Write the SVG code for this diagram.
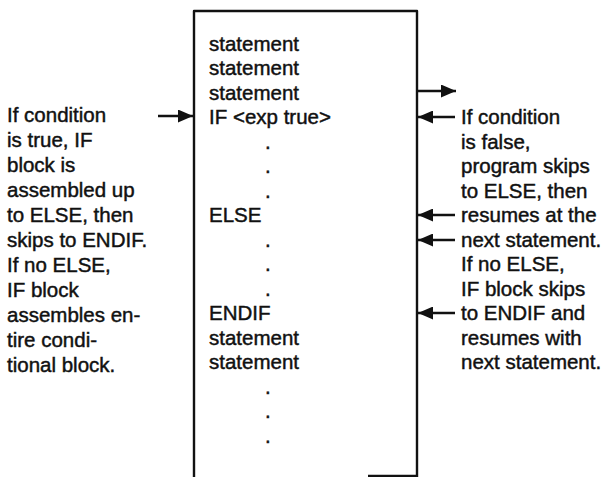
<svg xmlns="http://www.w3.org/2000/svg" width="604" height="477" viewBox="0 0 604 477">
<style>
text{font-family:"Liberation Sans",Arial,sans-serif;font-size:20.5px;fill:#111;stroke:#111;stroke-width:0.45px}
.edge{stroke:#111;stroke-width:2.6;fill:none}
.box{stroke:#111;stroke-width:2.4;fill:none;stroke-linejoin:round}
</style>
<defs>
<marker id="ah" viewBox="0 0 15 13" refX="15" refY="6.5" markerWidth="15" markerHeight="13" markerUnits="userSpaceOnUse" orient="auto">
<path d="M0,0 L15,6.5 L0,13 z" fill="#111"/>
</marker>
</defs>
<rect width="604" height="477" fill="#fff"/>
<g id="block">
<path class="box" d="M194,477 L194,11 L417,11 L417,477"/>
<path class="box" d="M368,476 L417,476"/>
<text x="209" y="50.5">statement</text>
<text x="209" y="75">statement</text>
<text x="209" y="99.5">statement</text>
<text x="209" y="124">IF &lt;exp true&gt;</text>
<text x="265" y="148.5">.</text>
<text x="265" y="173">.</text>
<text x="265" y="197.5">.</text>
<text x="209" y="222">ELSE</text>
<text x="265" y="246.5">.</text>
<text x="265" y="271">.</text>
<text x="265" y="295.5">.</text>
<text x="209" y="320">ENDIF</text>
<text x="209" y="344.5">statement</text>
<text x="209" y="369">statement</text>
<text x="265" y="393.5">.</text>
<text x="265" y="418">.</text>
<text x="265" y="442.5">.</text>
</g>
<g id="left-note">
<text x="7" y="122">If condition</text>
<text x="7" y="147">is true, IF</text>
<text x="7" y="172">block is</text>
<text x="7" y="197">assembled up</text>
<text x="7" y="222">to ELSE, then</text>
<text x="7" y="247">skips to ENDIF.</text>
<text x="7" y="272">If no ELSE,</text>
<text x="7" y="297">IF block</text>
<text x="7" y="322">assembles en-</text>
<text x="7" y="347">tire condi-</text>
<text x="7" y="372">tional block.</text>
</g>
<g id="right-note">
<text x="461" y="124">If condition</text>
<text x="461" y="148.5">is false,</text>
<text x="461" y="173">program skips</text>
<text x="461" y="197.5">to ELSE, then</text>
<text x="461" y="222">resumes at the</text>
<text x="461" y="246.5">next statement.</text>
<text x="461" y="271">If no ELSE,</text>
<text x="461" y="295.5">IF block skips</text>
<text x="461" y="320">to ENDIF and</text>
<text x="461" y="344.5">resumes with</text>
<text x="461" y="369">next statement.</text>
</g>
<g id="connectors">
<line class="edge" x1="158" y1="116" x2="193" y2="116" marker-end="url(#ah)"/>
<line class="edge" x1="417" y1="91" x2="456" y2="91" marker-end="url(#ah)"/>
<line class="edge" x1="455" y1="117" x2="418" y2="117" marker-end="url(#ah)"/>
<line class="edge" x1="455" y1="215" x2="418" y2="215" marker-end="url(#ah)"/>
<line class="edge" x1="455" y1="240" x2="418" y2="240" marker-end="url(#ah)"/>
<line class="edge" x1="455" y1="313" x2="418" y2="313" marker-end="url(#ah)"/>
</g>
</svg>
